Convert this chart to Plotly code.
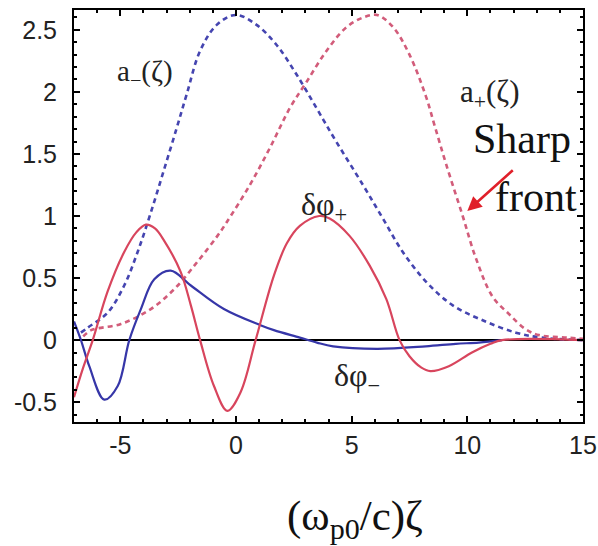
import plotly.graph_objects as go

# a_-(zeta), blue dashed
am_x = [-6.7, -6.41, -5.55, -4.83, -4.25, -3.71, -3.13, -2.56, -2.13, -1.55, -0.83, 0.0, 0.89, 1.75, 2.62, 3.48, 4.3, 5.49, 6.35, 7.21, 8.22, 9.37, 10.66, 12.1, 13.2, 15.0]
am_y = [0.06, 0.10, 0.22, 0.44, 0.71, 1.01, 1.36, 1.71, 1.98, 2.33, 2.54, 2.62, 2.54, 2.38, 2.14, 1.87, 1.61, 1.25, 0.98, 0.71, 0.47, 0.28, 0.16, 0.06, 0.02, 0.0]

# a_+(zeta), red dashed
ap_x = [-6.6, -6.26, -4.97, -3.68, -2.67, -1.67, -0.8, -0.4, 0.6, 1.47, 2.33, 3.05, 3.91, 4.77, 5.5, 6.1, 6.8, 7.5, 8.2, 8.6, 9.08, 9.8, 10.37, 11.09, 11.8, 12.5, 13.1, 14.3, 15.0]
ap_y = [0.03, 0.08, 0.13, 0.25, 0.41, 0.63, 0.84, 0.95, 1.25, 1.55, 1.87, 2.08, 2.33, 2.52, 2.6, 2.62, 2.52, 2.3, 1.97, 1.72, 1.42, 1.0, 0.66, 0.35, 0.21, 0.09, 0.04, 0.02, 0.01]

# delta phi_+, red solid
dpp_x = [-7.0, -6.6, -6.19, -5.55, -4.83, -4.3, -3.89, -3.5, -3.1, -2.39, -1.95, -1.55, -0.95, -0.37, 0.2, 0.85, 1.64, 2.2, 2.76, 3.6, 4.05, 4.91, 5.78, 6.5, 7.07, 7.5, 8.0, 8.4, 9.2, 10.2, 11.0, 11.5, 15.0]
dpp_y = [-0.46, -0.22, 0.0, 0.39, 0.71, 0.87, 0.93, 0.9, 0.8, 0.55, 0.28, 0.0, -0.37, -0.57, -0.42, 0.0, 0.52, 0.78, 0.92, 1.0, 0.98, 0.84, 0.6, 0.33, 0.0, -0.13, -0.22, -0.25, -0.21, -0.1, -0.03, 0.0, 0.0]

# delta phi_-, blue solid
dpm_x = [-7.0, -6.7, -6.34, -5.69, -5.11, -4.61, -4.11, -3.53, -2.82, -1.95, -0.52, 1.06, 1.64, 2.76, 3.5, 4.2, 6.1, 8.2, 9.5, 10.5, 11.5]
dpm_y = [0.15, 0.0, -0.21, -0.48, -0.37, 0.0, 0.25, 0.49, 0.56, 0.44, 0.25, 0.12, 0.08, 0.02, -0.02, -0.05, -0.07, -0.05, -0.03, -0.02, 0.0]

x_ticks = [-5, 0, 5, 10, 15]
y_ticks = [-0.5, 0, 0.5, 1, 1.5, 2, 2.5]
y_tick_text = ["-0.5", "0", "0.5", "1", "1.5", "2", "2.5"]

RED = "#d8455d"
BLUE = "#3636a8"
RED_D = "#d25c7a"
BLUE_D = "#4545b0"

fig = go.Figure()
fig.add_trace(go.Scatter(x=am_x, y=am_y, mode="lines", line=dict(color=BLUE_D, width=2.6, dash="5px,4px", shape="spline", smoothing=1.0)))
fig.add_trace(go.Scatter(x=ap_x, y=ap_y, mode="lines", line=dict(color=RED_D, width=2.6, dash="5px,4px", shape="spline", smoothing=1.0)))
fig.add_trace(go.Scatter(x=dpm_x, y=dpm_y, mode="lines", line=dict(color=BLUE, width=2.2, shape="spline", smoothing=1.0)))
fig.add_trace(go.Scatter(x=dpp_x, y=dpp_y, mode="lines", line=dict(color=RED, width=2.2, shape="spline", smoothing=1.0)))

serif = "Liberation Serif"
ann = [
    dict(x=-3.95, y=2.15, text="a<sub>−</sub>(ζ)", font=dict(size=29, family=serif, color="#222")),
    dict(x=10.95, y=1.98, text="a<sub>+</sub>(ζ)", font=dict(size=31, family=serif, color="#222")),
    dict(x=12.35, y=1.62, text="Sharp", font=dict(size=42, family=serif, color="#111")),
    dict(x=12.95, y=1.15, text="front", font=dict(size=42, family=serif, color="#111")),
    dict(x=3.8, y=1.08, text="δφ<sub>+</sub>", font=dict(size=32, family=serif, color="#222")),
    dict(x=5.25, y=-0.30, text="δφ<sub>−</sub>", font=dict(size=32, family=serif, color="#222")),
]
for a in ann:
    fig.add_annotation(xref="x", yref="y", showarrow=False, **a)

fig.add_annotation(x=10.0, y=1.04, ax=12.03, ay=1.38, xref="x", yref="y", axref="x", ayref="y",
                   text="", showarrow=True, arrowhead=2, arrowsize=1.1, arrowwidth=2.6, arrowcolor="#e0202a")

fig.add_annotation(xref="paper", yref="paper", x=0.552, y=-0.235, xanchor="center", yanchor="middle",
                   text="(ω<sub>p0</sub>/c)ζ", showarrow=False, font=dict(size=43, family=serif, color="#111"))

axis_common = dict(showgrid=False, showline=True, linecolor="black", linewidth=2, mirror="allticks",
                   ticks="inside", ticklen=6, tickwidth=1.5, tickcolor="black", automargin=False,
                   tickfont=dict(size=25, family="Liberation Sans", color="#222"))

fig.update_xaxes(range=[-7, 15], tickvals=x_ticks, ticktext=[str(v) for v in x_ticks],
                 minor=dict(dtick=1, ticks="inside", ticklen=3, tickcolor="black"),
                 zeroline=False, **axis_common)
fig.update_yaxes(range=[-0.66, 2.66], tickvals=y_ticks, ticktext=y_tick_text,
                 minor=dict(dtick=0.1, ticks="inside", ticklen=3, tickcolor="black"),
                 zeroline=True, zerolinecolor="black", zerolinewidth=1.5, ticklabelstandoff=10, **axis_common)

fig.update_layout(width=598, height=546, margin=dict(l=74, r=15, t=10, b=124, autoexpand=False),
                  plot_bgcolor="white", paper_bgcolor="white", showlegend=False)

fig.write_html(
    "out.html",
    config={"displayModeBar": False, "responsive": False},
    post_script=(
        "document.documentElement.style.margin='0';"
        "document.documentElement.style.overflow='hidden';"
        "document.body.style.margin='0';"
        "document.body.style.padding='0';"
        "document.body.style.overflow='hidden';"
    ),
)
